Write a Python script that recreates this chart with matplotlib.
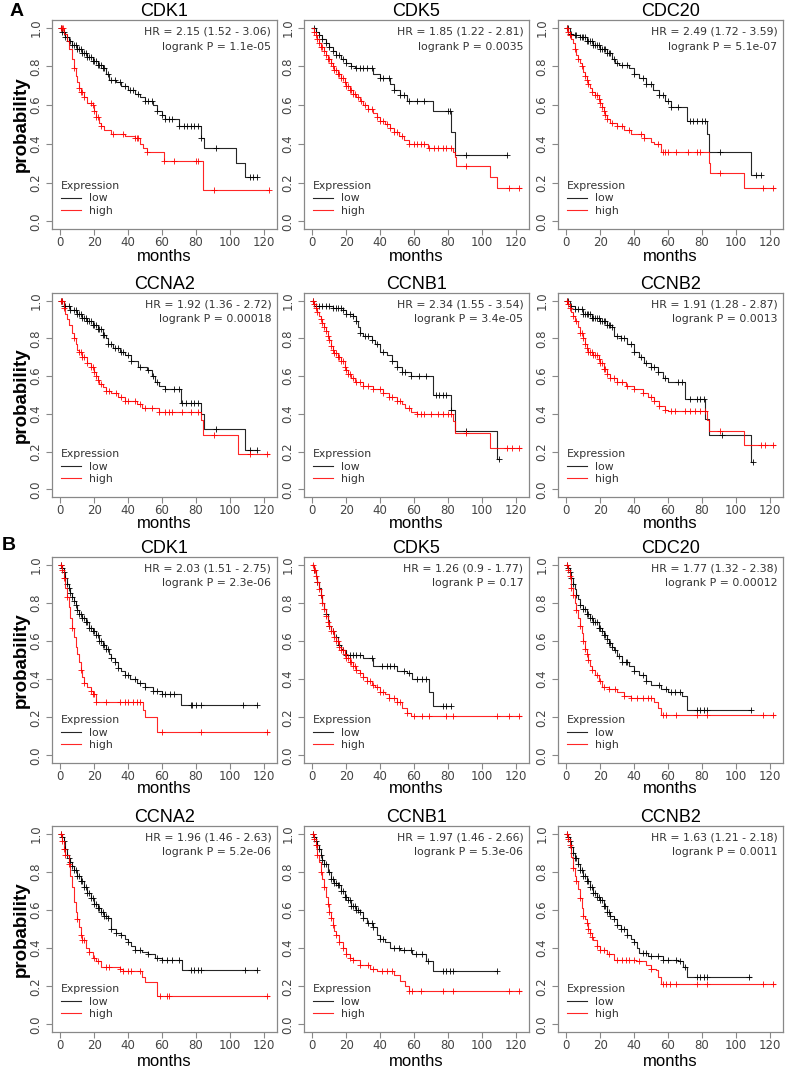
import numpy as np
import matplotlib
matplotlib.use("Agg")
import matplotlib.pyplot as plt
from matplotlib.lines import Line2D

# ---- survival curves: (months, probability) step knots, last entry = end of follow-up
a_cdk1_low = [(0,1),(1,0.98),(3,0.95),(5,0.93),(7,0.91),(10,0.89),(13,0.87),(16,0.85),(19,0.83),(22,0.81),(25,0.79),(27,0.76),(29,0.73),(33,0.72),(36,0.70),(40,0.68),(44,0.66),(47,0.64),(50,0.62),(55,0.60),(57,0.57),(60,0.55),(62,0.53),(70,0.49),(83,0.43),(85,0.38),(104,0.30),(109,0.23),(116,0.23)]
a_cdk1_high = [(0,1),(2,0.97),(4,0.93),(5,0.89),(7,0.84),(8,0.79),(9,0.75),(10,0.72),(11,0.69),(12,0.67),(14,0.64),(16,0.61),(19,0.60),(20,0.57),(21,0.54),(23,0.51),(24,0.49),(26,0.47),(30,0.45),(38,0.44),(44,0.43),(47,0.40),(49,0.38),(51,0.36),(61,0.31),(84,0.16),(123,0.16)]
a_cdk5_low = [(0,1),(2,0.98),(4,0.96),(6,0.94),(8,0.92),(10,0.90),(12,0.88),(14,0.86),(17,0.84),(20,0.82),(23,0.80),(25,0.79),(36,0.76),(40,0.74),(46,0.71),(48,0.68),(52,0.65),(56,0.62),(71,0.57),(82,0.46),(84,0.34),(115,0.34)]
a_cdk5_high = [(0,1),(1,0.98),(2,0.96),(3,0.94),(4,0.92),(5,0.90),(7,0.88),(8,0.86),(9,0.84),(11,0.82),(12,0.80),(13,0.78),(15,0.76),(17,0.74),(19,0.72),(20,0.70),(22,0.68),(24,0.66),(26,0.64),(28,0.62),(30,0.60),(33,0.58),(36,0.56),(38,0.54),(40,0.52),(43,0.50),(46,0.48),(48,0.46),(51,0.44),(54,0.42),(57,0.40),(68,0.38),(83,0.36),(84,0.33),(85,0.285),(105,0.23),(109,0.17),(123,0.17)]
a_cdc20_low = [(0,1),(2,0.97),(4,0.96),(8,0.95),(12,0.93),(16,0.91),(20,0.89),(24,0.87),(27,0.84),(29,0.82),(31,0.81),(37,0.79),(40,0.76),(43,0.74),(47,0.71),(51,0.68),(55,0.65),(58,0.62),(62,0.59),(71,0.52),(83,0.45),(84,0.36),(109,0.24),(115,0.24)]
a_cdc20_high = [(0,1),(1,0.98),(2,0.96),(3,0.94),(4,0.92),(5,0.89),(6,0.86),(7,0.84),(8,0.82),(9,0.80),(10,0.77),(11,0.75),(12,0.73),(13,0.71),(14,0.69),(15,0.67),(17,0.65),(19,0.63),(20,0.61),(21,0.59),(22,0.57),(23,0.55),(24,0.53),(26,0.51),(30,0.49),(34,0.47),(38,0.45),(46,0.43),(50,0.41),(52,0.40),(56,0.36),(84,0.30),(85,0.25),(105,0.17),(123,0.17)]
a_ccna2_low = [(0,1),(2,0.97),(6,0.95),(10,0.93),(13,0.91),(16,0.89),(19,0.87),(22,0.85),(25,0.82),(27,0.80),(28,0.77),(31,0.75),(35,0.73),(38,0.71),(42,0.68),(46,0.65),(51,0.63),(54,0.60),(56,0.57),(58,0.55),(62,0.53),(71,0.46),(83,0.40),(85,0.32),(109,0.21),(116,0.21)]
a_ccna2_high = [(0,1),(2,0.96),(3,0.93),(4,0.90),(5,0.87),(7,0.83),(8,0.80),(9,0.77),(10,0.74),(11,0.73),(13,0.70),(16,0.67),(18,0.65),(20,0.62),(21,0.60),(22,0.58),(23,0.56),(25,0.54),(27,0.52),(30,0.51),(34,0.49),(38,0.47),(45,0.45),(48,0.43),(58,0.41),(83,0.37),(84,0.29),(105,0.19),(123,0.19)]
a_ccnb1_low = [(0,1),(1,0.97),(12,0.96),(18,0.95),(20,0.93),(24,0.92),(26,0.89),(27,0.86),(28,0.83),(30,0.81),(35,0.79),(37,0.77),(40,0.73),(44,0.71),(47,0.68),(50,0.65),(53,0.62),(58,0.60),(71,0.50),(82,0.42),(84,0.31),(109,0.16),(110,0.16)]
a_ccnb1_high = [(0,1),(1,0.98),(2,0.96),(3,0.94),(4,0.92),(5,0.90),(6,0.88),(7,0.86),(8,0.84),(9,0.81),(10,0.79),(11,0.76),(12,0.74),(13,0.72),(15,0.70),(17,0.68),(19,0.65),(20,0.63),(21,0.61),(23,0.59),(25,0.57),(30,0.55),(36,0.53),(42,0.51),(45,0.49),(50,0.47),(53,0.45),(55,0.43),(58,0.41),(62,0.40),(83,0.36),(84,0.30),(105,0.22),(123,0.22)]
a_ccnb2_low = [(0,1),(2,0.97),(5,0.955),(10,0.93),(15,0.91),(20,0.89),(24,0.87),(27,0.86),(28,0.81),(32,0.80),(36,0.77),(40,0.73),(43,0.70),(46,0.67),(50,0.65),(54,0.62),(57,0.59),(60,0.57),(70,0.48),(82,0.375),(84,0.29),(109,0.145),(110,0.145)]
a_ccnb2_high = [(0,1),(1,0.98),(2,0.96),(3,0.94),(4,0.92),(5,0.89),(7,0.86),(8,0.83),(10,0.80),(11,0.77),(12,0.75),(13,0.73),(16,0.71),(19,0.69),(20,0.67),(22,0.64),(24,0.61),(26,0.59),(30,0.57),(35,0.55),(40,0.53),(45,0.51),(48,0.49),(52,0.47),(55,0.44),(58,0.42),(60,0.415),(83,0.37),(84,0.31),(105,0.235),(123,0.235)]

b_cdk1_low = [(0,1),(1,0.98),(2,0.96),(3,0.93),(4,0.90),(5,0.88),(6,0.85),(7,0.83),(8,0.81),(9,0.79),(10,0.76),(11,0.74),(13,0.72),(15,0.70),(17,0.67),(19,0.65),(21,0.63),(23,0.60),(25,0.58),(27,0.56),(29,0.53),(30,0.51),(32,0.49),(34,0.46),(36,0.44),(38,0.42),(41,0.40),(45,0.38),(50,0.36),(55,0.34),(60,0.32),(71,0.265),(116,0.265)]
b_cdk1_high = [(0,1),(1,0.97),(2,0.93),(3,0.88),(4,0.83),(5,0.78),(6,0.72),(7,0.67),(8,0.62),(9,0.57),(10,0.53),(11,0.49),(12,0.45),(13,0.41),(14,0.38),(16,0.36),(18,0.34),(19,0.32),(21,0.28),(49,0.24),(50,0.20),(57,0.12),(123,0.12)]
b_cdk5_low = [(0,1),(1,0.97),(2,0.94),(3,0.91),(4,0.88),(5,0.84),(6,0.80),(7,0.77),(8,0.74),(9,0.71),(10,0.68),(11,0.65),(13,0.62),(15,0.58),(17,0.56),(18,0.55),(20,0.525),(30,0.51),(36,0.47),(50,0.44),(56,0.43),(59,0.40),(69,0.33),(71,0.26),(82,0.26)]
b_cdk5_high = [(0,1),(1,0.97),(2,0.94),(3,0.91),(4,0.87),(5,0.84),(6,0.80),(7,0.77),(8,0.73),(9,0.70),(10,0.68),(11,0.65),(13,0.62),(14,0.60),(16,0.57),(17,0.55),(19,0.53),(20,0.51),(22,0.49),(24,0.47),(26,0.45),(28,0.43),(30,0.41),(32,0.39),(35,0.37),(37,0.36),(40,0.33),(43,0.32),(45,0.30),(50,0.28),(53,0.25),(56,0.22),(58,0.205),(123,0.205)]
b_cdc20_low = [(0,1),(1,0.98),(2,0.96),(3,0.93),(4,0.90),(5,0.87),(6,0.84),(7,0.82),(8,0.79),(10,0.77),(12,0.74),(14,0.72),(16,0.70),(19,0.67),(21,0.65),(22,0.63),(24,0.61),(25,0.59),(27,0.57),(28,0.55),(30,0.52),(33,0.49),(37,0.47),(40,0.44),(43,0.42),(47,0.39),(50,0.37),(56,0.35),(60,0.33),(68,0.31),(71,0.24),(109,0.24)]
b_cdc20_high = [(0,1),(1,0.97),(2,0.94),(3,0.88),(4,0.84),(5,0.80),(6,0.76),(7,0.72),(8,0.68),(9,0.64),(10,0.60),(11,0.56),(12,0.53),(13,0.50),(14,0.47),(15,0.45),(17,0.42),(19,0.39),(21,0.36),(25,0.35),(30,0.33),(34,0.31),(38,0.30),(52,0.28),(54,0.25),(56,0.21),(123,0.21)]
b_ccna2_low = [(0,1),(1,0.98),(2,0.96),(3,0.92),(4,0.89),(5,0.87),(6,0.85),(7,0.83),(8,0.81),(10,0.78),(12,0.75),(14,0.72),(16,0.69),(18,0.66),(20,0.63),(22,0.61),(24,0.59),(26,0.57),(28,0.56),(30,0.50),(33,0.48),(36,0.47),(38,0.45),(40,0.43),(42,0.41),(44,0.39),(48,0.38),(52,0.37),(56,0.35),(60,0.34),(72,0.285),(116,0.285)]
b_ccna2_high = [(0,1),(1,0.96),(2,0.92),(3,0.89),(5,0.84),(6,0.78),(7,0.72),(8,0.64),(9,0.59),(10,0.55),(11,0.51),(12,0.47),(13,0.44),(15,0.40),(17,0.38),(19,0.35),(21,0.33),(24,0.30),(35,0.29),(37,0.28),(48,0.25),(50,0.22),(57,0.147),(123,0.147)]
b_ccnb1_low = [(0,1),(1,0.98),(2,0.96),(3,0.94),(4,0.92),(5,0.89),(6,0.86),(7,0.84),(9,0.80),(11,0.76),(13,0.74),(15,0.73),(17,0.70),(19,0.67),(21,0.65),(23,0.62),(26,0.60),(28,0.59),(30,0.56),(32,0.53),(36,0.51),(38,0.47),(40,0.45),(43,0.43),(46,0.40),(52,0.39),(59,0.37),(67,0.33),(71,0.28),(109,0.28)]
b_ccnb1_high = [(0,1),(1,0.97),(2,0.94),(3,0.89),(4,0.85),(5,0.80),(6,0.76),(7,0.72),(8,0.67),(9,0.63),(10,0.59),(11,0.56),(12,0.52),(13,0.49),(14,0.47),(16,0.43),(18,0.40),(20,0.37),(22,0.35),(24,0.335),(28,0.31),(34,0.29),(38,0.28),(48,0.26),(52,0.23),(55,0.20),(57,0.175),(123,0.175)]
b_ccnb2_low = [(0,1),(1,0.98),(2,0.96),(3,0.93),(4,0.90),(5,0.87),(7,0.84),(8,0.81),(10,0.78),(12,0.75),(14,0.72),(16,0.69),(18,0.67),(20,0.65),(22,0.62),(24,0.59),(26,0.57),(28,0.55),(30,0.52),(32,0.50),(36,0.47),(38,0.45),(40,0.43),(42,0.40),(43,0.375),(48,0.357),(57,0.34),(66,0.33),(69,0.30),(71,0.25),(109,0.25)]
b_ccnb2_high = [(0,1),(1,0.97),(2,0.94),(3,0.88),(4,0.82),(5,0.78),(6,0.75),(7,0.71),(8,0.66),(9,0.61),(10,0.57),(11,0.55),(12,0.53),(13,0.50),(14,0.48),(15,0.46),(16,0.44),(18,0.41),(20,0.39),(24,0.37),(28,0.34),(41,0.33),(47,0.31),(50,0.29),(53,0.285),(54,0.25),(56,0.21),(123,0.21)]

# ---- censoring times (months)
a_cdk1_low_c = [0.5,1,2,3,4,5,6,7,8,9,10,11,12,13,14,15,16,17,18,19,20,21,22,23,24,25,26,28,30,32,35,38,41,43,46,50,52,54,57,60,62,64,66,70,73,75,77,79,81,83,92,112,114,116]
a_cdk1_high_c = [0.5,1,1.5,8,11,12,13,14,18,19,20,21,22,24,31,37,44,45,46,51,61,67,80,81,91,123]
a_cdk5_low_c = [1,2,4,6,8,10,12,14,16,18,20,23,26,28,30,32,35,40,42,45,48,52,54,57,62,66,80,81,91,115]
a_cdk5_high_c = [1,2,3,4,5,6,7,8,9,10,11,12,13,14,15,16,17,18,19,20,21,22,23,24,25,27,29,31,33,35,38,40,42,44,46,48,50,53,57,60,62,64,66,69,72,74,77,79,82,91,116,122]
a_cdc20_low_c = [0.5,1,2,3,5,6,8,9,10,11,12,13,14,15,16,17,18,19,20,21,22,23,24,25,26,28,30,33,36,40,45,47,50,55,57,60,62,66,73,75,77,80,82,91,112,115]
a_cdc20_high_c = [0.5,1,2,5,7,9,11,12,13,15,17,18,19,20,21,22,23,24,27,30,33,37,44,46,54,57,58,60,65,72,77,79,91,116,122]
a_ccna2_low_c = [0.5,1,2,3,5,6,8,9,10,11,12,13,14,15,16,17,18,19,20,21,22,23,24,25,26,28,30,32,34,36,37,40,42,47,52,55,57,62,67,70,72,74,77,79,81,92,112,116]
a_ccna2_high_c = [0.5,1,2,8,11,12,13,14,16,18,19,20,21,22,24,27,29,33,36,38,40,44,47,50,54,58,62,64,66,72,77,81,91,112,122]
a_ccnb1_low_c = [0.5,2,4,6,8,10,12,14,15,17,18,20,22,24,26,28,31,33,35,38,42,47,50,53,55,58,63,67,73,75,77,79,82,91,110]
a_ccnb1_high_c = [0.5,1,2,3,5,6,7,8,9,10,11,12,13,14,15,16,17,18,19,20,21,22,24,26,28,30,33,36,40,42,45,47,50,52,57,62,64,66,70,74,77,80,82,91,115,118,122]
a_ccnb2_low_c = [0.5,1,3,5,7,9,10,11,12,13,14,15,16,17,18,19,20,21,22,23,24,25,26,27,30,32,34,38,40,44,47,50,52,54,58,66,68,73,77,79,81,92,110]
a_ccnb2_high_c = [0.5,1,2,4,6,8,9,10,11,12,13,14,15,16,17,18,19,20,21,22,23,24,26,28,30,33,36,40,45,50,52,55,58,62,64,70,73,76,79,82,91,115,117,122]

b_cdk1_low_c = [0.5,1,2,3,4,5,6,7,8,9,10,11,12,13,14,15,16,17,18,19,20,21,22,23,24,25,26,27,28,30,32,34,38,40,44,47,50,55,57,60,62,65,67,77,78,80,83,108,116]
b_cdk1_high_c = [0.5,1,2,4,7,12,14,18,19,20,21,27,35,38,40,43,45,47,60,83,122]
b_cdk5_low_c = [1,3,5,8,10,12,14,16,18,20,22,24,26,28,35,41,44,46,48,54,57,62,65,67,77,79,82]
b_cdk5_high_c = [0.5,1,1.5,2,3,4,5,6,7,8,9,10,11,12,13,14,15,16,17,18,19,20,21,22,23,24,25,26,28,30,32,34,36,38,40,42,45,48,50,52,56,60,65,69,79,83,109,116,122]
b_cdc20_low_c = [0.5,1,2,3,4,6,8,10,11,12,13,14,15,16,17,18,19,20,21,22,23,24,25,26,27,29,31,33,35,36,40,45,47,55,59,62,64,67,77,79,81,83,109]
b_cdc20_high_c = [0.5,1,2,3,4,6,8,10,11,12,13,15,18,20,22,25,29,34,38,42,45,48,50,57,59,65,77,83,116,122]
b_ccna2_low_c = [0.5,1,2,3,4,5,6,7,8,9,10,11,12,13,14,15,16,17,18,19,20,21,22,23,24,25,26,27,28,30,33,36,40,44,47,52,57,60,63,66,70,77,79,81,83,109,116]
b_ccna2_high_c = [0.5,1,2,3,5,10,12,13,14,17,20,22,27,29,35,37,40,42,47,59,63,64,122]
b_ccnb1_low_c = [0.5,1,2,3,4,5,6,7,8,10,11,12,13,14,15,16,17,18,19,20,21,22,23,24,25,26,27,28,30,33,35,36,40,42,48,51,54,58,61,65,68,77,79,81,83,109]
b_ccnb1_high_c = [0.5,1,2,3,5,7,9,10,11,12,14,16,18,20,22,24,28,33,36,41,44,47,57,59,64,77,83,116,122]
b_ccnb2_low_c = [0.5,1,2,3,4,5,6,7,8,9,10,11,12,13,14,15,16,17,18,19,20,21,22,23,24,25,26,28,30,32,34,36,40,45,47,50,54,57,60,65,67,70,77,79,81,83,108]
b_ccnb2_high_c = [0.5,1,2,4,6,8,10,12,13,14,15,18,20,22,25,30,33,35,37,40,43,50,57,59,61,65,77,83,116,122]

genes = ["CDK1", "CDK5", "CDC20", "CCNA2", "CCNB1", "CCNB2"]
hr_a = ["HR = 2.15 (1.52 - 3.06)", "HR = 1.85 (1.22 - 2.81)", "HR = 2.49 (1.72 - 3.59)",
        "HR = 1.92 (1.36 - 2.72)", "HR = 2.34 (1.55 - 3.54)", "HR = 1.91 (1.28 - 2.87)"]
p_a = ["logrank P = 1.1e-05", "logrank P = 0.0035", "logrank P = 5.1e-07",
       "logrank P = 0.00018", "logrank P = 3.4e-05", "logrank P = 0.0013"]
hr_b = ["HR = 2.03 (1.51 - 2.75)", "HR = 1.26 (0.9 - 1.77)", "HR = 1.77 (1.32 - 2.38)",
        "HR = 1.96 (1.46 - 2.63)", "HR = 1.97 (1.46 - 2.66)", "HR = 1.63 (1.21 - 2.18)"]
p_b = ["logrank P = 2.3e-06", "logrank P = 0.17", "logrank P = 0.00012",
       "logrank P = 5.2e-06", "logrank P = 5.3e-06", "logrank P = 0.0011"]

low_a = [a_cdk1_low, a_cdk5_low, a_cdc20_low, a_ccna2_low, a_ccnb1_low, a_ccnb2_low]
high_a = [a_cdk1_high, a_cdk5_high, a_cdc20_high, a_ccna2_high, a_ccnb1_high, a_ccnb2_high]
lowc_a = [a_cdk1_low_c, a_cdk5_low_c, a_cdc20_low_c, a_ccna2_low_c, a_ccnb1_low_c, a_ccnb2_low_c]
highc_a = [a_cdk1_high_c, a_cdk5_high_c, a_cdc20_high_c, a_ccna2_high_c, a_ccnb1_high_c, a_ccnb2_high_c]
low_b = [b_cdk1_low, b_cdk5_low, b_cdc20_low, b_ccna2_low, b_ccnb1_low, b_ccnb2_low]
high_b = [b_cdk1_high, b_cdk5_high, b_cdc20_high, b_ccna2_high, b_ccnb1_high, b_ccnb2_high]
lowc_b = [b_cdk1_low_c, b_cdk5_low_c, b_cdc20_low_c, b_ccna2_low_c, b_ccnb1_low_c, b_ccnb2_low_c]
highc_b = [b_cdk1_high_c, b_cdk5_high_c, b_cdc20_high_c, b_ccna2_high_c, b_ccnb1_high_c, b_ccnb2_high_c]

W, H = 789, 1070
fig = plt.figure(figsize=(W / 100, H / 100), dpi=100)

col_left = [52, 304, 558]
ax_w = 225
rows = [(20, 229), (293, 497), (557, 763), (826, 1032)]
months_base = [261, 528, 793, 1066]

GRID = "#888888"
TXT = "#333333"


def km(ax, curve, cens, color):
    t = np.array([p[0] for p in curve], float)
    s = np.array([p[1] for p in curve], float)
    ax.step(t, s, where="post", color=color, lw=0.8, alpha=0.85)
    c = np.array(cens, float)
    idx = np.searchsorted(t, c, side="right") - 1
    ax.plot(c, s[idx], ls="none", marker="+", ms=4.5, mew=0.7, color=color, alpha=0.85)


def panel(r, ci, gene, low, lowc, high, highc, hr, p):
    top, bot = rows[r]
    left = col_left[ci]
    ax = fig.add_axes([left / W, 1 - bot / H, ax_w / W, (bot - top) / H])
    km(ax, low, lowc, "black")
    km(ax, high, highc, "red")
    ax.set_xlim(-4.92, 127.92)
    ax.set_ylim(-0.04, 1.04)
    ax.set_xticks([0, 20, 40, 60, 80, 100, 120])
    ax.set_yticks([0.0, 0.2, 0.4, 0.6, 0.8, 1.0])
    ax.set_yticklabels(["0.0", "0.2", "0.4", "0.6", "0.8", "1.0"], rotation=90, va="center")
    for sp in ax.spines.values():
        sp.set_color(GRID)
        sp.set_linewidth(0.9)
    ax.tick_params(colors=GRID, labelcolor="#444444", labelsize=8.5, length=4, width=0.8)
    ax.tick_params(axis="x", pad=1)
    ax.tick_params(axis="y", pad=3)
    ax.set_title(gene, fontsize=13, family="Liberation Sans", pad=2)
    ax.text(0.975, 0.945, hr, transform=ax.transAxes, ha="right", va="center",
            fontsize=7.8, color=TXT)
    ax.text(0.975, 0.872, p, transform=ax.transAxes, ha="right", va="center",
            fontsize=7.8, color=TXT)
    handles = [Line2D([], [], color="black", lw=0.8, alpha=0.85),
               Line2D([], [], color="red", lw=0.8, alpha=0.85)]
    leg = ax.legend(handles, ["low", "high"], title="Expression", loc="lower left",
                    bbox_to_anchor=(0.0, 0.02), frameon=False, fontsize=7.8,
                    title_fontsize=7.8, handlelength=1.9, handletextpad=0.7,
                    labelspacing=0.25, borderpad=0.3, alignment="left")
    leg.get_title().set_color(TXT)
    for tx in leg.get_texts():
        tx.set_color(TXT)
    fig.text((left + ax_w / 2) / W, 1 - months_base[r] / H, "months", ha="center",
             va="baseline", fontsize=12, family="Liberation Sans")
    if ci == 0:
        fig.text(21 / W, 1 - (top + bot) / 2 / H, "probability", rotation=90, ha="center",
                 va="center", fontsize=13.5, fontweight="bold", family="Liberation Sans")


sets = [(hr_a, p_a, low_a, lowc_a, high_a, highc_a, 0),
        (hr_b, p_b, low_b, lowc_b, high_b, highc_b, 2)]
for hrs, ps, lows, lowcs, highs, highcs, r0 in sets:
    for k in range(6):
        r = r0 + k // 3
        ci = k % 3
        panel(r, ci, genes[k], lows[k], lowcs[k], highs[k], highcs[k], hrs[k], ps[k])

fig.text(17 / W, 1 - 12 / H, "A", ha="center", va="center", fontsize=14,
         fontweight="bold", family="Liberation Sans")
fig.text(9 / W, 1 - 546 / H, "B", ha="center", va="center", fontsize=14,
         fontweight="bold", family="Liberation Sans")

fig.savefig("out.png", dpi=100)
